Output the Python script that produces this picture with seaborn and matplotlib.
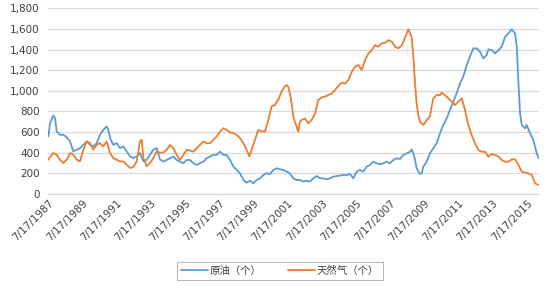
import matplotlib
matplotlib.use("Agg")
import matplotlib.pyplot as plt
import matplotlib.ticker as mticker
import seaborn as sns
import pandas as pd
import numpy as np

# ---- data (decimal years) ----
oil_years = [1987.54, 1987.64, 1987.83, 1987.93, 1988.03, 1988.22, 1988.42, 1988.61, 1988.81, 1989.00,
             1989.20, 1989.39, 1989.59, 1989.78, 1989.98, 1990.17, 1990.37, 1990.56, 1990.76, 1990.95,
             1991.05, 1991.15, 1991.34, 1991.54, 1991.73, 1991.93, 1992.12, 1992.32, 1992.51, 1992.71,
             1992.90, 1993.10, 1993.29, 1993.49, 1993.68, 1993.88, 1994.07, 1994.27, 1994.46, 1994.66,
             1994.85, 1995.05, 1995.24, 1995.44, 1995.63, 1995.83, 1996.02, 1996.22, 1996.41, 1996.61,
             1996.80, 1997.00, 1997.19, 1997.39, 1997.58, 1997.78, 1997.97, 1998.17, 1998.36, 1998.56,
             1998.75, 1998.95, 1999.14, 1999.34, 1999.53, 1999.73, 1999.92, 2000.12, 2000.31, 2000.51,
             2000.70, 2000.90, 2001.09, 2001.29, 2001.48, 2001.67, 2001.87, 2002.06, 2002.26, 2002.45,
             2002.65, 2002.84, 2003.04, 2003.23, 2003.43, 2003.62, 2003.82, 2004.01, 2004.21, 2004.40,
             2004.60, 2004.79, 2004.99, 2005.18, 2005.38, 2005.57, 2005.77, 2005.96, 2006.16, 2006.35,
             2006.55, 2006.74, 2006.94, 2007.13, 2007.33, 2007.52, 2007.72, 2007.91, 2008.11, 2008.30,
             2008.50, 2008.70, 2008.79, 2008.89, 2008.99, 2009.08, 2009.28, 2009.38, 2009.47, 2009.67,
             2009.86, 2010.06, 2010.25, 2010.45, 2010.64, 2010.84, 2011.03, 2011.23, 2011.42, 2011.62,
             2011.81, 2012.01, 2012.20, 2012.40, 2012.59, 2012.79, 2012.98, 2013.18, 2013.28, 2013.48,
             2013.67, 2013.87, 2014.06, 2014.26, 2014.45, 2014.65, 2014.84, 2014.94, 2015.04, 2015.13,
             2015.23, 2015.43, 2015.52, 2015.72, 2015.91, 2016.01, 2016.11, 2016.21]
oil_values = [558, 687, 761, 735, 606, 574, 574, 550, 510, 413,
              429, 445, 477, 510, 477, 461, 493, 574, 622, 655,
              622, 542, 477, 493, 445, 461, 413, 365, 348, 365,
              397, 316, 332, 381, 429, 445, 335, 314, 330, 347,
              363, 330, 314, 298, 330, 330, 298, 282, 298, 314,
              347, 363, 379, 379, 411, 379, 379, 330, 266, 233,
              201, 136, 110, 130, 104, 136, 152, 185, 201, 194,
              233, 249, 240, 233, 216, 200, 152, 136, 136, 120,
              129, 120, 152, 174, 152, 152, 142, 152, 168, 174,
              178, 184, 184, 194, 152, 216, 233, 216, 265, 281,
              313, 297, 291, 297, 313, 297, 329, 346, 340, 378,
              394, 410, 433, 394, 329, 249, 194, 200, 265, 313,
              394, 443, 491, 588, 669, 733, 814, 895, 975, 1072,
              1137, 1250, 1331, 1412, 1412, 1379, 1315, 1347, 1402, 1395,
              1363, 1395, 1428, 1525, 1557, 1596, 1557, 1428, 1072, 782,
              669, 636, 669, 588, 523, 459, 394, 346]

gas_years = [1987.54, 1987.64, 1987.83, 1988.03, 1988.22, 1988.42, 1988.61, 1988.81, 1989.00, 1989.20,
             1989.39, 1989.59, 1989.78, 1989.98, 1990.17, 1990.37, 1990.56, 1990.76, 1990.95, 1991.15,
             1991.34, 1991.54, 1991.73, 1991.93, 1992.12, 1992.32, 1992.51, 1992.71, 1992.90, 1993.00,
             1993.10, 1993.29, 1993.49, 1993.68, 1993.88, 1994.07, 1994.27, 1994.46, 1994.66, 1994.85,
             1995.05, 1995.24, 1995.44, 1995.63, 1995.83, 1996.02, 1996.22, 1996.41, 1996.61, 1996.80,
             1997.00, 1997.19, 1997.39, 1997.58, 1997.78, 1997.97, 1998.17, 1998.36, 1998.56, 1998.75,
             1998.95, 1999.14, 1999.30, 1999.43, 1999.63, 1999.82, 2000.02, 2000.21, 2000.41, 2000.60,
             2000.80, 2000.99, 2001.19, 2001.38, 2001.48, 2001.57, 2001.67, 2001.77, 2001.87, 2001.96,
             2002.06, 2002.16, 2002.26, 2002.35, 2002.55, 2002.74, 2002.94, 2003.14, 2003.33, 2003.53,
             2003.72, 2003.92, 2004.11, 2004.31, 2004.51, 2004.70, 2004.90, 2005.09, 2005.29, 2005.48,
             2005.68, 2005.87, 2006.07, 2006.26, 2006.46, 2006.65, 2006.85, 2007.04, 2007.24, 2007.43,
             2007.63, 2007.82, 2008.01, 2008.21, 2008.40, 2008.60, 2008.70, 2008.79, 2008.89, 2008.99,
             2009.08, 2009.18, 2009.28, 2009.47, 2009.67, 2009.86, 2009.96, 2010.06, 2010.25, 2010.45,
             2010.55, 2010.74, 2010.94, 2011.13, 2011.33, 2011.52, 2011.72, 2011.91, 2012.11, 2012.30,
             2012.50, 2012.70, 2012.89, 2013.08, 2013.28, 2013.48, 2013.67, 2013.87, 2014.06, 2014.26,
             2014.45, 2014.65, 2014.84, 2015.04, 2015.23, 2015.43, 2015.62, 2015.82, 2016.01, 2016.21]
gas_values = [332, 358, 397, 381, 332, 300, 332, 397, 381, 332,
              316, 429, 510, 493, 429, 477, 493, 461, 510, 397,
              348, 332, 316, 316, 284, 252, 261, 316, 510, 526,
              348, 268, 300, 348, 413, 400, 402, 428, 476, 444,
              379, 330, 379, 428, 421, 411, 444, 476, 509, 492,
              492, 525, 557, 606, 638, 622, 596, 590, 573, 541,
              492, 428, 363, 428, 525, 622, 606, 606, 719, 849,
              865, 914, 995, 1045, 1056, 1040, 975, 879, 749, 701,
              652, 604, 701, 717, 733, 685, 717, 782, 911, 937,
              943, 959, 975, 1008, 1047, 1079, 1072, 1105, 1185, 1234,
              1250, 1202, 1298, 1363, 1395, 1444, 1428, 1460, 1466, 1492,
              1476, 1428, 1412, 1440, 1512, 1596, 1557, 1525, 1331, 1072,
              879, 766, 701, 669, 717, 749, 846, 927, 959, 959,
              982, 959, 927, 895, 862, 895, 927, 814, 669, 572,
              491, 426, 410, 410, 362, 388, 378, 362, 329, 313,
              313, 336, 336, 281, 216, 207, 200, 184, 103, 87]

series_names = ["原油（个）", "天然气（个）"]
series_colors = ["#5B9BD5", "#ED7D31"]
tick_years = list(range(1987, 2016, 2))
tick_labels = [f"7/17/{y}" for y in tick_years]


def to_date(yrs):
    yrs = np.asarray(yrs, dtype=float)
    base = pd.Timestamp("1987-01-01")
    return base + pd.to_timedelta((yrs - 1987.0) * 365.25, unit="D")


df = pd.concat([
    pd.DataFrame({"date": to_date(oil_years), "value": oil_values, "series": series_names[0]}),
    pd.DataFrame({"date": to_date(gas_years), "value": gas_values, "series": series_names[1]}),
], ignore_index=True)

sns.set_theme(style="white")
plt.rcParams["font.family"] = ["DejaVu Sans"]

fig = plt.figure(figsize=(5.49, 2.88), dpi=100)
ax = fig.add_axes([48 / 549, 1 - 194 / 288, (539 - 48) / 549, (194 - 8.3) / 288])

sns.lineplot(data=df, x="date", y="value", hue="series", hue_order=series_names,
             palette=series_colors, linewidth=1.3, ax=ax, legend=False, sort=True)

ax.set_xlim(to_date([1987.52])[0], to_date([2016.24])[0])
ax.set_ylim(0, 1800)
ax.yaxis.set_major_locator(mticker.MultipleLocator(200))
ax.yaxis.set_major_formatter(mticker.FuncFormatter(lambda v, p: f"{int(v):,}"))
ax.grid(axis="y", color="#D9D9D9", linewidth=0.9)
ax.grid(axis="x", visible=False)
ax.set_axisbelow(True)
for s in ["top", "right", "left"]:
    ax.spines[s].set_visible(False)
ax.spines["bottom"].set_color("#D9D9D9")
ax.spines["bottom"].set_linewidth(0.9)

tick_pos = [pd.Timestamp(f"{y}-07-17") for y in tick_years]
ax.set_xticks(tick_pos)
ax.set_xticklabels(tick_labels, rotation=45, ha="right", va="top",
                   rotation_mode="anchor", fontsize=7.5, color="#404040")
ax.tick_params(axis="y", labelsize=7.5, labelcolor="#404040", length=0, pad=6)
ax.tick_params(axis="x", length=0, pad=3)
ax.set_xlabel("")
ax.set_ylabel("")

handles = [plt.Line2D([], [], color=c, linewidth=1.3) for c in series_colors]
leg = fig.legend(handles, series_names, loc="center", bbox_to_anchor=(280 / 549, 1 - 271 / 288),
                 ncol=2, frameon=True, fancybox=False, edgecolor="#A6A6A6",
                 prop={"family": ["Noto Sans CJK SC", "DejaVu Sans"], "size": 7.5},
                 handlelength=2.6, handletextpad=0.2, columnspacing=2.5,
                 borderpad=0.35, labelcolor="#404040")
leg.get_frame().set_linewidth(0.8)

fig.savefig("out.png", dpi=100)
